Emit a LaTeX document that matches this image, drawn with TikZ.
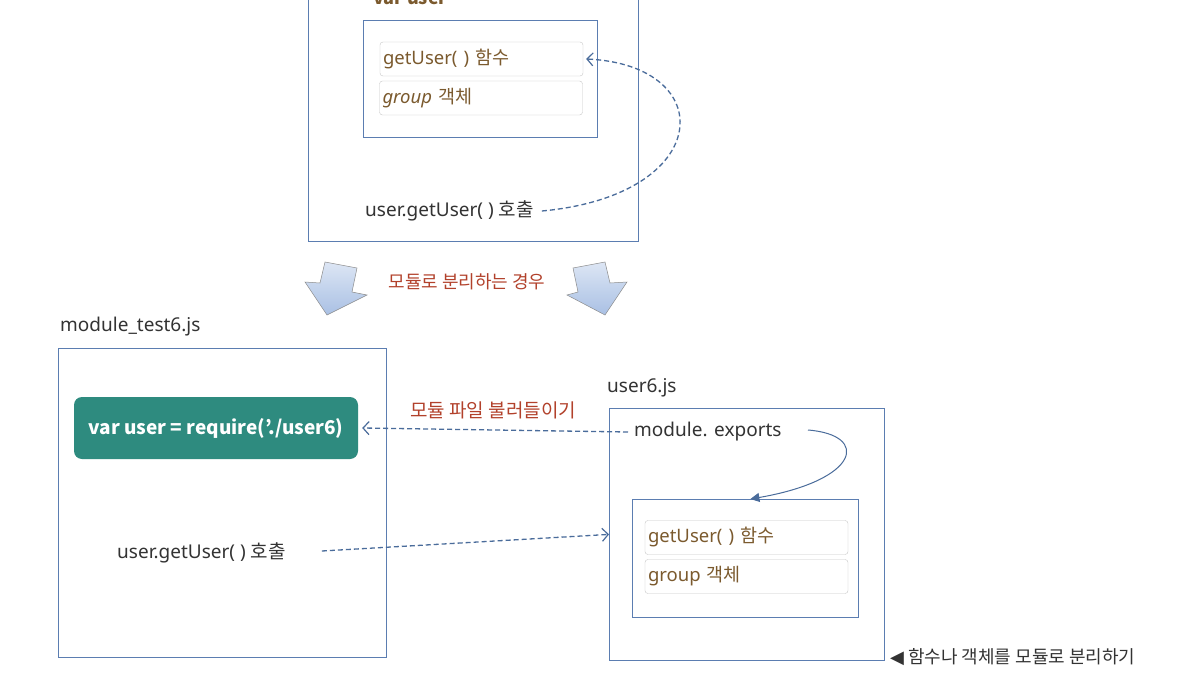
\documentclass[tikz,border=0pt]{standalone}
\usepackage{fontspec}
\setmainfont{Noto Sans}
\newfontfamily\kr{Noto Sans CJK KR}
\newfontfamily\symfont{DejaVu Sans}
\usetikzlibrary{arrows.meta}
\definecolor{boxblue}{HTML}{5B7DB1}
\definecolor{arrowblue}{HTML}{4A6C9B}
\definecolor{brownt}{HTML}{7B5A2E}
\definecolor{redt}{HTML}{B2412B}
\definecolor{tealf}{HTML}{2E8B7F}
\definecolor{grayt}{HTML}{333333}
\definecolor{arrowfill}{HTML}{A9C0E4}
\tikzset{
  frame/.style={draw=boxblue, line width=0.8pt, inner sep=0pt, anchor=north west},
  itembox/.style={draw=black!22, rounded corners=3pt, minimum width=203pt, minimum height=34pt,
     text width=197pt, inner sep=3pt, align=left, text=brownt, font=\fontsize{18.5}{20}\selectfont},
  plain/.style={text=grayt, font=\fontsize{19}{21}\selectfont, inner sep=0pt},
  redlbl/.style={text=redt, font=\kr\fontsize{18}{20}\selectfont, inner sep=0pt},
  dasharrow/.style={draw=arrowblue, line width=1.3pt, dash pattern=on 5pt off 3pt,
     -{Straight Barb[length=6pt,width=13pt,line width=1.2pt]}},
  solidarrow/.style={draw=arrowblue, line width=1pt, -{Triangle[length=9pt,width=9pt]}},
  fatarrow/.style={draw=black!45, line width=0.5pt, top color=arrowfill!40, bottom color=arrowfill},
}
\begin{document}
\begin{tikzpicture}[x=1pt,y=-1pt]
\useasboundingbox (0,0) rectangle (1181,698);
\clip (0,0) rectangle (1181,698);
\fill[white] (0,0) rectangle (1181,698);
% top box
\node[frame, minimum width=330pt, minimum height=261pt] (topbox) at (308,-20) {};
\node[anchor=base west, inner sep=0pt, text=brownt, font=\kr\bfseries\fontsize{18}{20}\selectfont] (varuser) at (373,5) {var user};
\node[frame, minimum width=234pt, minimum height=117pt] (topinner) at (363,20) {};
\node[itembox] (tget) at (481.5,59) {getUser( ) {\kr 함수}};
\node[itembox, font=\itshape\fontsize{18.5}{20}\selectfont] (tgroup) at (481,98) {group {\kr 객체}};
\node[plain, anchor=west] (tcall) at (365,211) {user.getUser( ) {\kr 호출}};
\draw[dasharrow] ([xshift=8pt]tcall.east) .. controls (715,195) and (720,65) .. ([xshift=3pt]tget.east);
% fat arrows
\draw[fatarrow] (325,262) -- (357,268) -- (352,292) -- (367,295) -- (327,315) -- (305,282) -- (320,283) -- cycle;
\draw[fatarrow] (573,268) -- (605,262) -- (610,283) -- (627,282) -- (605,315) -- (567,295) -- (578,292) -- cycle;
\node[redlbl] (split) at (467,282) {모듈로 분리하는 경우};
% left box
\node[plain, anchor=west] (ltitle) at (60,327) {module\_test6.js};
\node[frame, minimum width=328pt, minimum height=309pt] (lbox) at (58,348) {};
\node[fill=tealf, rounded corners=8pt, minimum width=284pt, minimum height=62pt, text=white,
      font=\kr\bfseries\fontsize{19}{21}\selectfont] (req) at (216,428) {var user = require(’./user6)};
\node[plain, anchor=west] (lcall) at (117,553) {user.getUser( ) {\kr 호출}};
% right box
\node[plain, anchor=west] (rtitle) at (607,388) {user6.js};
\node[frame, minimum width=275pt, minimum height=252pt] (rbox) at (609,408) {};
\node[plain, anchor=west] (exports) at (634,432) {module. exports};
\node[frame, minimum width=226pt, minimum height=118pt] (rinner) at (632,499) {};
\node[itembox] (rget) at (746.5,537.5) {getUser( ) {\kr 함수}};
\node[itembox] (rgroup) at (746.5,576.5) {group {\kr 객체}};
\node[redlbl, anchor=west, font=\kr\fontsize{19}{21}\selectfont] (load) at (410,410) {모듈 파일 불러들이기};
\draw[dasharrow] ([xshift=-6pt]exports.west) -- ([xshift=4pt]req.east);
\coordinate (lcallend) at ([xshift=36pt,yshift=2pt]lcall.east);
\draw[dasharrow] (lcallend) -- (rbox.west);
\coordinate (expstart) at (808,430);
\draw[solidarrow] (expstart) .. controls (870,435) and (860,480) .. ([xshift=5pt]rinner.north);
% caption
\node[inner sep=0pt, anchor=west, text=grayt, font=\kr\fontsize{18}{20}\selectfont] (caption) at (890,657) {{\symfont ◀} 함수나 객체를 모듈로 분리하기};
\end{tikzpicture}
\end{document}
